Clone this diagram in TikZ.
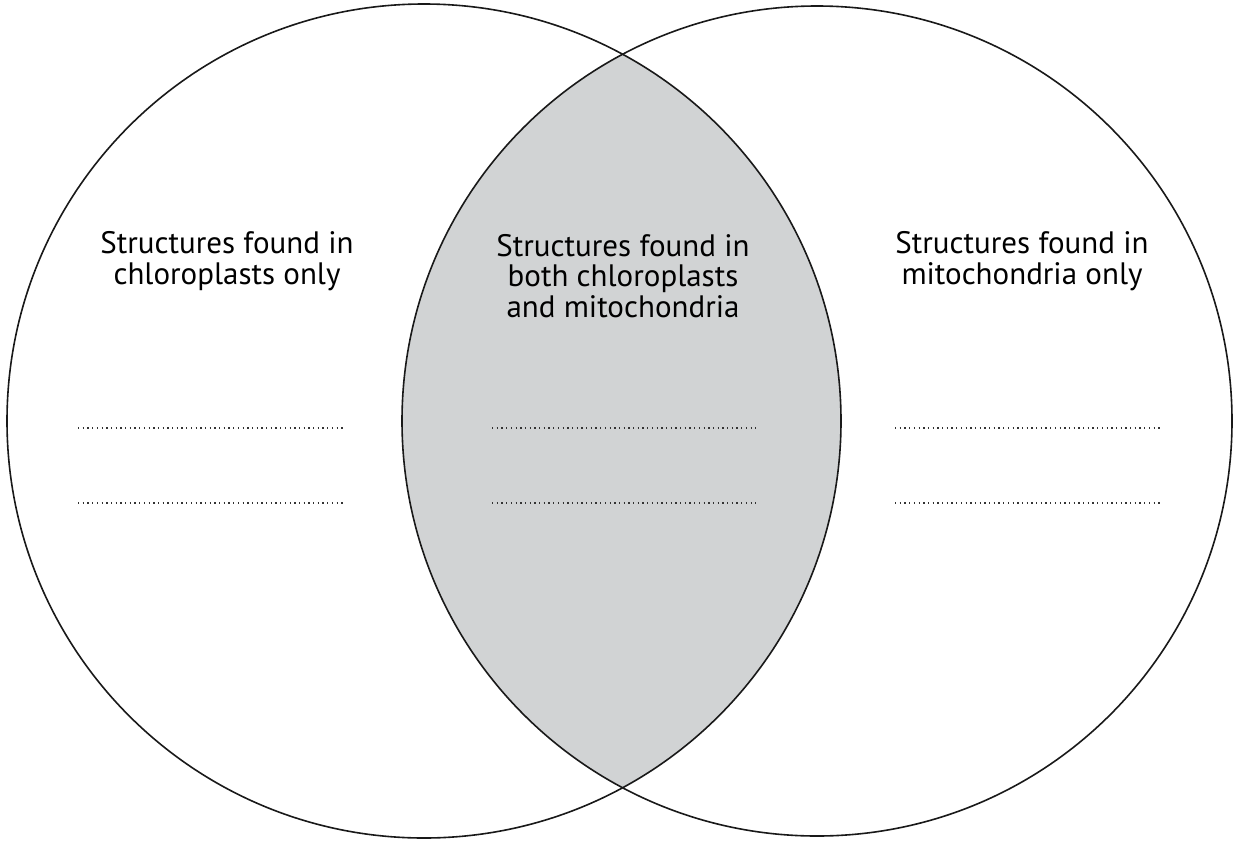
\documentclass[tikz,border=0pt]{standalone}
\usepackage{fontspec}
\setmainfont{PT Sans}
\definecolor{lensgray}{HTML}{D1D3D4}
\definecolor{dotgray}{HTML}{333333}
\begin{document}
\begin{tikzpicture}[x=1pt,y=-1pt,
  circ/.style={draw=black!90,line width=1.6pt},
  lbl/.style={align=center,font=\fontsize{31}{30.5}\selectfont,inner sep=0pt,anchor=center},
  dotline/.style={draw=dotgray,line width=1.3pt,dash pattern=on 1.3pt off 3.4pt}]
\useasboundingbox (0,0) rectangle (1233,841);
\coordinate (cl) at (424,421);
\coordinate (cr) at (817,421);
\begin{scope}
  \clip (cl) circle[radius=417];
  \fill[lensgray] (cr) circle[radius=415];
\end{scope}
\draw[circ] (cl) circle[radius=417];
\draw[circ] (cr) circle[radius=415];
\node[lbl] (tl) at (227,261) {Structures found in\\chloroplasts only};
\node[lbl] (tm) at (623,276) {Structures found in\\both chloroplasts\\and mitochondria};
\node[lbl] (tr) at (1022,261) {Structures found in\\mitochondria only};
\foreach \n/\xa/\xb in {l/78/343, m/492/756, r/895/1160}{
  \coordinate (\n a1) at (\xa,428); \coordinate (\n b1) at (\xb,428);
  \coordinate (\n a2) at (\xa,503); \coordinate (\n b2) at (\xb,503);
  \draw[dotline] (\n a1) -- (\n b1);
  \draw[dotline] (\n a2) -- (\n b2);
}
\end{tikzpicture}
\end{document}
